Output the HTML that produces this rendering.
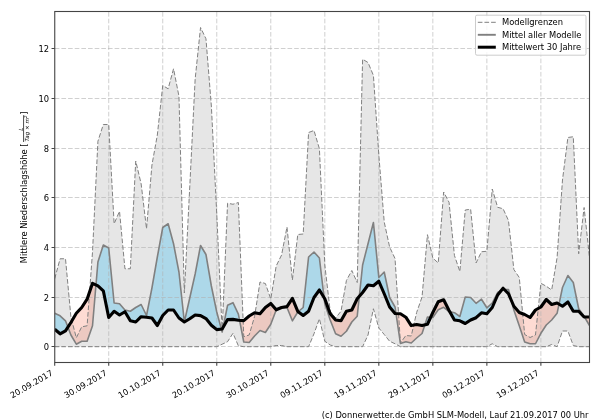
<!DOCTYPE html>
<html lang="de"><head><meta charset="utf-8"><title>Niederschlag</title>
<style>html,body{margin:0;padding:0;background:#fff;}body{width:600px;height:420px;position:relative;overflow:hidden;font-family:"DejaVu Sans","Liberation Sans",sans-serif;}</style>
</head><body>
<svg width="600" height="420" viewBox="0 0 600 420" style="position:absolute;left:0;top:0;will-change:transform">
<defs><clipPath id="c"><rect x="54.75" y="11.5" width="534.75" height="351.0"/></clipPath></defs>
<rect x="0" y="0" width="600" height="420" fill="#fff"/>
<g clip-path="url(#c)">
<polygon points="54.70,278.75 60.10,258.75 65.50,258.75 70.91,317.00 76.31,337.80 81.71,326.80 87.11,325.80 92.51,252.00 97.92,141.25 103.32,124.50 108.72,124.50 114.12,223.75 119.52,211.25 124.93,268.75 130.33,268.75 135.73,161.00 141.13,183.75 146.53,228.75 151.94,165.00 157.34,135.00 162.74,85.50 168.14,88.75 173.54,68.75 178.95,96.25 184.35,293.00 189.75,187.00 195.15,79.00 200.55,27.50 205.96,38.75 211.36,106.00 216.76,214.00 222.16,331.00 227.56,203.25 232.97,204.25 238.37,202.50 243.77,336.70 249.17,335.00 254.57,316.50 259.98,282.00 265.38,283.50 270.78,299.00 276.18,266.00 281.58,255.00 286.99,227.00 292.39,280.00 297.79,234.50 303.19,234.00 308.59,132.50 314.00,130.50 319.40,148.75 324.80,265.00 330.20,311.25 335.60,318.00 341.01,311.25 346.41,280.50 351.81,270.50 357.21,282.50 362.61,59.25 368.02,62.50 373.42,75.50 378.82,155.00 384.22,222.00 389.62,247.00 395.03,258.50 400.43,343.00 405.83,335.50 411.23,336.00 416.63,312.50 422.04,297.00 427.44,234.70 432.84,258.00 438.24,263.00 443.64,192.00 449.05,202.30 454.45,255.50 459.85,271.50 465.25,210.00 470.65,209.25 476.06,263.00 481.46,251.75 486.86,251.25 492.26,189.00 497.66,207.30 503.07,208.75 508.47,220.50 513.87,269.50 519.27,277.50 524.67,334.50 530.08,337.50 535.48,335.00 540.88,283.30 546.28,286.25 551.68,290.00 557.09,257.50 562.49,180.00 567.89,137.50 573.29,136.75 578.69,253.75 584.10,207.50 589.50,257.50 589.50,346.70 584.10,346.70 578.69,346.70 573.29,345.50 567.89,331.00 562.49,331.00 557.09,346.70 551.68,344.50 546.28,346.70 540.88,346.70 535.48,346.70 530.08,346.70 524.67,346.70 519.27,346.70 513.87,346.70 508.47,346.70 503.07,346.70 497.66,346.70 492.26,343.75 486.86,346.70 481.46,346.70 476.06,346.70 470.65,346.70 465.25,346.70 459.85,346.70 454.45,346.70 449.05,346.70 443.64,346.70 438.24,346.70 432.84,346.70 427.44,346.70 422.04,346.70 416.63,346.70 411.23,346.70 405.83,346.70 400.43,346.70 395.03,343.75 389.62,341.25 384.22,334.50 378.82,328.00 373.42,308.75 368.02,335.00 362.61,346.70 357.21,346.70 351.81,346.70 346.41,346.70 341.01,346.70 335.60,346.70 330.20,345.00 324.80,341.25 319.40,318.75 314.00,333.75 308.59,346.70 303.19,346.70 297.79,346.70 292.39,346.70 286.99,346.70 281.58,345.50 276.18,345.50 270.78,346.70 265.38,346.70 259.98,346.70 254.57,346.70 249.17,346.70 243.77,346.70 238.37,345.80 232.97,333.30 227.56,341.70 222.16,344.20 216.76,346.70 211.36,346.70 205.96,346.70 200.55,346.70 195.15,346.70 189.75,346.70 184.35,346.70 178.95,346.70 173.54,346.70 168.14,346.70 162.74,346.70 157.34,346.70 151.94,346.70 146.53,346.70 141.13,346.70 135.73,346.70 130.33,346.70 124.93,346.70 119.52,346.70 114.12,346.70 108.72,346.70 103.32,346.70 97.92,346.70 92.51,346.70 87.11,346.70 81.71,346.70 76.31,346.70 70.91,346.70 65.50,346.70 60.10,346.70 54.70,346.70" fill="#808080" fill-opacity="0.2"/>
<path d="M67.90,327.11 L70.91,335.00 L76.31,344.20 L81.71,341.30 L87.11,341.30 L92.51,325.80 L95.98,284.90 L95.98,284.90 L92.51,283.30 L87.11,299.20 L81.71,307.50 L76.31,313.30 L70.91,322.50 L67.90,327.11Z M221.38,329.09 L222.16,332.00 L223.10,327.37 L223.10,327.37 L222.16,329.00 L221.38,329.09Z M239.55,320.29 L243.77,342.00 L249.17,342.50 L254.57,336.00 L259.98,330.50 L265.38,332.50 L270.78,324.30 L276.18,310.00 L281.58,307.50 L281.58,307.50 L276.18,309.80 L270.78,303.40 L265.38,307.50 L259.98,313.80 L254.57,312.70 L249.17,316.00 L243.77,320.60 L239.55,320.29Z M281.58,307.50 L286.99,307.50 L292.39,320.80 L297.79,312.00 L298.17,311.69 L298.17,311.69 L297.79,311.40 L292.39,298.30 L286.99,306.60 L281.58,307.50Z M324.07,297.57 L324.80,303.75 L330.20,320.00 L335.60,333.75 L341.01,336.25 L346.41,331.25 L351.81,322.00 L357.21,316.25 L359.31,296.32 L359.31,296.32 L357.21,298.75 L351.81,310.00 L346.41,311.25 L341.01,320.75 L335.60,320.00 L330.20,313.75 L324.80,298.75 L324.07,297.57Z M395.99,313.54 L400.43,343.50 L405.83,341.70 L411.23,343.00 L416.63,338.00 L422.04,333.50 L424.84,324.92 L424.84,324.92 L422.04,325.60 L416.63,324.60 L411.23,325.60 L405.83,317.20 L400.43,313.75 L395.99,313.54Z M430.64,317.30 L432.84,317.50 L438.24,309.80 L443.64,307.30 L449.05,311.50 L449.70,311.64 L449.70,311.64 L449.05,310.50 L443.64,299.80 L438.24,301.70 L432.84,312.50 L430.64,317.30Z M501.27,290.50 L503.07,289.50 L504.29,289.50 L504.29,289.50 L503.07,288.25 L501.27,290.50Z M511.34,300.39 L513.87,310.00 L519.27,325.80 L524.67,342.00 L530.08,343.75 L535.48,343.75 L540.88,333.30 L546.28,325.00 L551.68,320.00 L557.09,313.30 L559.00,304.15 L559.00,304.15 L557.09,303.00 L551.68,304.50 L546.28,299.50 L540.88,307.00 L535.48,310.00 L530.08,317.50 L524.67,314.50 L519.27,312.50 L513.87,306.25 L511.34,300.39Z M584.53,317.00 L589.50,325.50 L589.50,317.00 L584.53,317.00Z" fill="#fc8269" fill-opacity="0.29"/>
<path d="M54.70,313.30 L60.10,315.80 L65.50,320.80 L67.90,327.11 L67.90,327.11 L65.50,330.80 L60.10,333.80 L54.70,329.20Z M95.98,284.90 L97.92,262.00 L103.32,245.00 L108.72,248.00 L114.12,303.00 L119.52,303.75 L124.93,310.00 L130.33,311.25 L135.73,307.50 L141.13,304.50 L146.53,315.50 L151.94,288.00 L157.34,257.00 L162.74,227.50 L168.14,223.75 L173.54,243.75 L178.95,272.00 L184.35,322.00 L184.35,322.00 L178.95,318.00 L173.54,310.00 L168.14,310.00 L162.74,315.50 L157.34,325.50 L151.94,318.00 L146.53,317.20 L141.13,316.70 L135.73,322.00 L130.33,320.80 L124.93,311.70 L119.52,315.00 L114.12,311.30 L108.72,317.50 L103.32,290.80 L97.92,285.80 L95.98,284.90Z M184.35,322.00 L189.75,298.00 L195.15,274.00 L200.55,245.50 L205.96,254.50 L211.36,286.00 L216.76,312.00 L221.38,329.09 L221.38,329.09 L216.76,329.60 L211.36,325.20 L205.96,318.60 L200.55,315.60 L195.15,315.00 L189.75,318.75 L184.35,322.00Z M223.10,327.37 L227.56,305.30 L232.97,302.70 L238.37,314.20 L239.55,320.29 L239.55,320.29 L238.37,320.20 L232.97,319.40 L227.56,319.60 L223.10,327.37Z M298.17,311.69 L303.19,307.50 L308.59,257.00 L314.00,252.00 L319.40,258.00 L324.07,297.57 L324.07,297.57 L319.40,290.00 L314.00,297.50 L308.59,311.25 L303.19,315.50 L298.17,311.69Z M359.31,296.32 L362.61,265.00 L368.02,243.75 L373.42,222.50 L378.82,277.50 L384.22,272.00 L389.62,297.50 L395.03,307.00 L395.99,313.54 L395.99,313.54 L395.03,313.50 L389.62,307.00 L384.22,293.75 L378.82,281.25 L373.42,285.75 L368.02,285.00 L362.61,292.50 L359.31,296.32Z M424.84,324.92 L427.44,317.00 L430.64,317.30 L430.64,317.30 L427.44,324.30 L424.84,324.92Z M449.70,311.64 L454.45,312.70 L459.85,316.50 L465.25,297.00 L470.65,297.50 L476.06,303.30 L481.46,299.20 L486.86,307.80 L492.26,303.00 L497.66,292.50 L501.27,290.50 L501.27,290.50 L497.66,295.00 L492.26,307.50 L486.86,313.70 L481.46,312.80 L476.06,317.70 L470.65,320.00 L465.25,323.50 L459.85,320.80 L454.45,320.00 L449.70,311.64Z M504.29,289.50 L508.47,289.50 L511.34,300.39 L511.34,300.39 L508.47,293.75 L504.29,289.50Z M559.00,304.15 L562.49,287.50 L567.89,275.50 L573.29,282.50 L578.69,308.75 L584.10,316.25 L584.53,317.00 L584.53,317.00 L584.10,317.00 L578.69,311.25 L573.29,311.25 L567.89,302.00 L562.49,306.25 L559.00,304.15Z" fill="#87ceeb" fill-opacity="0.6"/>
<path d="M108.72 362.5V11.5 M162.74 362.5V11.5 M216.76 362.5V11.5 M270.78 362.5V11.5 M324.80 362.5V11.5 M378.82 362.5V11.5 M432.84 362.5V11.5 M486.86 362.5V11.5 M540.88 362.5V11.5 M54.75 346.50H589.5 M54.75 297.50H589.5 M54.75 247.50H589.5 M54.75 197.50H589.5 M54.75 148.50H589.5 M54.75 98.50H589.5 M54.75 48.50H589.5" stroke="#b0b0b0" stroke-opacity="0.6" stroke-width="1.0" stroke-dasharray="4.65,2.0" fill="none"/>
<polyline points="54.70,278.75 60.10,258.75 65.50,258.75 70.91,317.00 76.31,337.80 81.71,326.80 87.11,325.80 92.51,252.00 97.92,141.25 103.32,124.50 108.72,124.50 114.12,223.75 119.52,211.25 124.93,268.75 130.33,268.75 135.73,161.00 141.13,183.75 146.53,228.75 151.94,165.00 157.34,135.00 162.74,85.50 168.14,88.75 173.54,68.75 178.95,96.25 184.35,293.00 189.75,187.00 195.15,79.00 200.55,27.50 205.96,38.75 211.36,106.00 216.76,214.00 222.16,331.00 227.56,203.25 232.97,204.25 238.37,202.50 243.77,336.70 249.17,335.00 254.57,316.50 259.98,282.00 265.38,283.50 270.78,299.00 276.18,266.00 281.58,255.00 286.99,227.00 292.39,280.00 297.79,234.50 303.19,234.00 308.59,132.50 314.00,130.50 319.40,148.75 324.80,265.00 330.20,311.25 335.60,318.00 341.01,311.25 346.41,280.50 351.81,270.50 357.21,282.50 362.61,59.25 368.02,62.50 373.42,75.50 378.82,155.00 384.22,222.00 389.62,247.00 395.03,258.50 400.43,343.00 405.83,335.50 411.23,336.00 416.63,312.50 422.04,297.00 427.44,234.70 432.84,258.00 438.24,263.00 443.64,192.00 449.05,202.30 454.45,255.50 459.85,271.50 465.25,210.00 470.65,209.25 476.06,263.00 481.46,251.75 486.86,251.25 492.26,189.00 497.66,207.30 503.07,208.75 508.47,220.50 513.87,269.50 519.27,277.50 524.67,334.50 530.08,337.50 535.48,335.00 540.88,283.30 546.28,286.25 551.68,290.00 557.09,257.50 562.49,180.00 567.89,137.50 573.29,136.75 578.69,253.75 584.10,207.50 589.50,257.50" fill="none" stroke="#808080" stroke-width="1.0" stroke-dasharray="4.65,2.0"/>
<polyline points="54.70,346.70 60.10,346.70 65.50,346.70 70.91,346.70 76.31,346.70 81.71,346.70 87.11,346.70 92.51,346.70 97.92,346.70 103.32,346.70 108.72,346.70 114.12,346.70 119.52,346.70 124.93,346.70 130.33,346.70 135.73,346.70 141.13,346.70 146.53,346.70 151.94,346.70 157.34,346.70 162.74,346.70 168.14,346.70 173.54,346.70 178.95,346.70 184.35,346.70 189.75,346.70 195.15,346.70 200.55,346.70 205.96,346.70 211.36,346.70 216.76,346.70 222.16,344.20 227.56,341.70 232.97,333.30 238.37,345.80 243.77,346.70 249.17,346.70 254.57,346.70 259.98,346.70 265.38,346.70 270.78,346.70 276.18,345.50 281.58,345.50 286.99,346.70 292.39,346.70 297.79,346.70 303.19,346.70 308.59,346.70 314.00,333.75 319.40,318.75 324.80,341.25 330.20,345.00 335.60,346.70 341.01,346.70 346.41,346.70 351.81,346.70 357.21,346.70 362.61,346.70 368.02,335.00 373.42,308.75 378.82,328.00 384.22,334.50 389.62,341.25 395.03,343.75 400.43,346.70 405.83,346.70 411.23,346.70 416.63,346.70 422.04,346.70 427.44,346.70 432.84,346.70 438.24,346.70 443.64,346.70 449.05,346.70 454.45,346.70 459.85,346.70 465.25,346.70 470.65,346.70 476.06,346.70 481.46,346.70 486.86,346.70 492.26,343.75 497.66,346.70 503.07,346.70 508.47,346.70 513.87,346.70 519.27,346.70 524.67,346.70 530.08,346.70 535.48,346.70 540.88,346.70 546.28,346.70 551.68,344.50 557.09,346.70 562.49,331.00 567.89,331.00 573.29,345.50 578.69,346.70 584.10,346.70 589.50,346.70" fill="none" stroke="#808080" stroke-width="1.0" stroke-dasharray="4.65,2.0"/>
<polyline points="54.70,313.30 60.10,315.80 65.50,320.80 70.91,335.00 76.31,344.20 81.71,341.30 87.11,341.30 92.51,325.80 97.92,262.00 103.32,245.00 108.72,248.00 114.12,303.00 119.52,303.75 124.93,310.00 130.33,311.25 135.73,307.50 141.13,304.50 146.53,315.50 151.94,288.00 157.34,257.00 162.74,227.50 168.14,223.75 173.54,243.75 178.95,272.00 184.35,322.00 189.75,298.00 195.15,274.00 200.55,245.50 205.96,254.50 211.36,286.00 216.76,312.00 222.16,332.00 227.56,305.30 232.97,302.70 238.37,314.20 243.77,342.00 249.17,342.50 254.57,336.00 259.98,330.50 265.38,332.50 270.78,324.30 276.18,310.00 281.58,307.50 286.99,307.50 292.39,320.80 297.79,312.00 303.19,307.50 308.59,257.00 314.00,252.00 319.40,258.00 324.80,303.75 330.20,320.00 335.60,333.75 341.01,336.25 346.41,331.25 351.81,322.00 357.21,316.25 362.61,265.00 368.02,243.75 373.42,222.50 378.82,277.50 384.22,272.00 389.62,297.50 395.03,307.00 400.43,343.50 405.83,341.70 411.23,343.00 416.63,338.00 422.04,333.50 427.44,317.00 432.84,317.50 438.24,309.80 443.64,307.30 449.05,311.50 454.45,312.70 459.85,316.50 465.25,297.00 470.65,297.50 476.06,303.30 481.46,299.20 486.86,307.80 492.26,303.00 497.66,292.50 503.07,289.50 508.47,289.50 513.87,310.00 519.27,325.80 524.67,342.00 530.08,343.75 535.48,343.75 540.88,333.30 546.28,325.00 551.68,320.00 557.09,313.30 562.49,287.50 567.89,275.50 573.29,282.50 578.69,308.75 584.10,316.25 589.50,325.50" fill="none" stroke="#808080" stroke-width="1.6" stroke-linejoin="round"/>
<polyline points="54.70,329.20 60.10,333.80 65.50,330.80 70.91,322.50 76.31,313.30 81.71,307.50 87.11,299.20 92.51,283.30 97.92,285.80 103.32,290.80 108.72,317.50 114.12,311.30 119.52,315.00 124.93,311.70 130.33,320.80 135.73,322.00 141.13,316.70 146.53,317.20 151.94,318.00 157.34,325.50 162.74,315.50 168.14,310.00 173.54,310.00 178.95,318.00 184.35,322.00 189.75,318.75 195.15,315.00 200.55,315.60 205.96,318.60 211.36,325.20 216.76,329.60 222.16,329.00 227.56,319.60 232.97,319.40 238.37,320.20 243.77,320.60 249.17,316.00 254.57,312.70 259.98,313.80 265.38,307.50 270.78,303.40 276.18,309.80 281.58,307.50 286.99,306.60 292.39,298.30 297.79,311.40 303.19,315.50 308.59,311.25 314.00,297.50 319.40,290.00 324.80,298.75 330.20,313.75 335.60,320.00 341.01,320.75 346.41,311.25 351.81,310.00 357.21,298.75 362.61,292.50 368.02,285.00 373.42,285.75 378.82,281.25 384.22,293.75 389.62,307.00 395.03,313.50 400.43,313.75 405.83,317.20 411.23,325.60 416.63,324.60 422.04,325.60 427.44,324.30 432.84,312.50 438.24,301.70 443.64,299.80 449.05,310.50 454.45,320.00 459.85,320.80 465.25,323.50 470.65,320.00 476.06,317.70 481.46,312.80 486.86,313.70 492.26,307.50 497.66,295.00 503.07,288.25 508.47,293.75 513.87,306.25 519.27,312.50 524.67,314.50 530.08,317.50 535.48,310.00 540.88,307.00 546.28,299.50 551.68,304.50 557.09,303.00 562.49,306.25 567.89,302.00 573.29,311.25 578.69,311.25 584.10,317.00 589.50,317.00" fill="none" stroke="#000" stroke-width="3.1" stroke-linejoin="round"/>
</g>
<path d="M54.70 362.5v3.2 M108.72 362.5v3.2 M162.74 362.5v3.2 M216.76 362.5v3.2 M270.78 362.5v3.2 M324.80 362.5v3.2 M378.82 362.5v3.2 M432.84 362.5v3.2 M486.86 362.5v3.2 M540.88 362.5v3.2 M54.75 346.50h-3.2 M54.75 297.50h-3.2 M54.75 247.50h-3.2 M54.75 197.50h-3.2 M54.75 148.50h-3.2 M54.75 98.50h-3.2 M54.75 48.50h-3.2" stroke="#444" stroke-width="1.1" fill="none"/>
<rect x="54.75" y="11.5" width="534.75" height="351.0" fill="none" stroke="#444" stroke-width="1.1"/>
<text x="49" y="349.90" text-anchor="end" font-family="DejaVu Sans, Liberation Sans, sans-serif" font-size="8.33" fill="#000">0</text>
<text x="49" y="300.90" text-anchor="end" font-family="DejaVu Sans, Liberation Sans, sans-serif" font-size="8.33" fill="#000">2</text>
<text x="49" y="250.90" text-anchor="end" font-family="DejaVu Sans, Liberation Sans, sans-serif" font-size="8.33" fill="#000">4</text>
<text x="49" y="200.90" text-anchor="end" font-family="DejaVu Sans, Liberation Sans, sans-serif" font-size="8.33" fill="#000">6</text>
<text x="49" y="151.90" text-anchor="end" font-family="DejaVu Sans, Liberation Sans, sans-serif" font-size="8.33" fill="#000">8</text>
<text x="49" y="101.90" text-anchor="end" font-family="DejaVu Sans, Liberation Sans, sans-serif" font-size="8.33" fill="#000">10</text>
<text x="49" y="51.90" text-anchor="end" font-family="DejaVu Sans, Liberation Sans, sans-serif" font-size="8.33" fill="#000">12</text>
<text transform="translate(50.50,369.5) rotate(-30)" x="0" y="6" text-anchor="end" font-family="DejaVu Sans, Liberation Sans, sans-serif" font-size="8.33" fill="#000">20.09.2017</text>
<text transform="translate(104.52,369.5) rotate(-30)" x="0" y="6" text-anchor="end" font-family="DejaVu Sans, Liberation Sans, sans-serif" font-size="8.33" fill="#000">30.09.2017</text>
<text transform="translate(158.54,369.5) rotate(-30)" x="0" y="6" text-anchor="end" font-family="DejaVu Sans, Liberation Sans, sans-serif" font-size="8.33" fill="#000">10.10.2017</text>
<text transform="translate(212.56,369.5) rotate(-30)" x="0" y="6" text-anchor="end" font-family="DejaVu Sans, Liberation Sans, sans-serif" font-size="8.33" fill="#000">20.10.2017</text>
<text transform="translate(266.58,369.5) rotate(-30)" x="0" y="6" text-anchor="end" font-family="DejaVu Sans, Liberation Sans, sans-serif" font-size="8.33" fill="#000">30.10.2017</text>
<text transform="translate(320.60,369.5) rotate(-30)" x="0" y="6" text-anchor="end" font-family="DejaVu Sans, Liberation Sans, sans-serif" font-size="8.33" fill="#000">09.11.2017</text>
<text transform="translate(374.62,369.5) rotate(-30)" x="0" y="6" text-anchor="end" font-family="DejaVu Sans, Liberation Sans, sans-serif" font-size="8.33" fill="#000">19.11.2017</text>
<text transform="translate(428.64,369.5) rotate(-30)" x="0" y="6" text-anchor="end" font-family="DejaVu Sans, Liberation Sans, sans-serif" font-size="8.33" fill="#000">29.11.2017</text>
<text transform="translate(482.66,369.5) rotate(-30)" x="0" y="6" text-anchor="end" font-family="DejaVu Sans, Liberation Sans, sans-serif" font-size="8.33" fill="#000">09.12.2017</text>
<text transform="translate(536.68,369.5) rotate(-30)" x="0" y="6" text-anchor="end" font-family="DejaVu Sans, Liberation Sans, sans-serif" font-size="8.33" fill="#000">19.12.2017</text>
<g transform="translate(26.8,263.3) rotate(-90)" font-family="DejaVu Sans, Liberation Sans, sans-serif" font-size="8.33" fill="#000"><text x="0" y="0">Mittlere Niederschlagshöhe [</text><text x="134.2" y="-3.9" font-size="5.7" font-style="italic" text-anchor="middle">L</text><rect x="121.3" y="-3.45" width="26.8" height="0.7" fill="#000"/><text x="121.7" y="2.5" font-size="5.6" font-style="italic">Tag × m<tspan font-size="4" dy="-2">2</tspan></text><text x="148.6" y="0">]</text></g>
<text x="588.5" y="418" text-anchor="end" font-family="DejaVu Sans, Liberation Sans, sans-serif" font-size="8.33" fill="#000">(c) Donnerwetter.de GmbH SLM-Modell, Lauf 21.09.2017 00 Uhr</text>
<rect x="475.5" y="15.2" width="110.5" height="40" rx="1.5" fill="#fff" fill-opacity="0.8" stroke="#ccc" stroke-width="1"/>
<path d="M477.8 22.3H495.8" stroke="#808080" stroke-width="1.0" stroke-dasharray="4.65,2.0"/>
<path d="M477.8 34.8H495.8" stroke="#808080" stroke-width="1.9"/>
<path d="M477.8 47.2H495.8" stroke="#000" stroke-width="3.0"/>
<text x="502" y="25.1" font-family="DejaVu Sans, Liberation Sans, sans-serif" font-size="8.33" fill="#000">Modellgrenzen</text>
<text x="502" y="37.9" font-family="DejaVu Sans, Liberation Sans, sans-serif" font-size="8.33" fill="#000">Mittel aller Modelle</text>
<text x="502" y="50.1" font-family="DejaVu Sans, Liberation Sans, sans-serif" font-size="8.33" fill="#000">Mittelwert 30 Jahre</text>
</svg>
</body></html>
